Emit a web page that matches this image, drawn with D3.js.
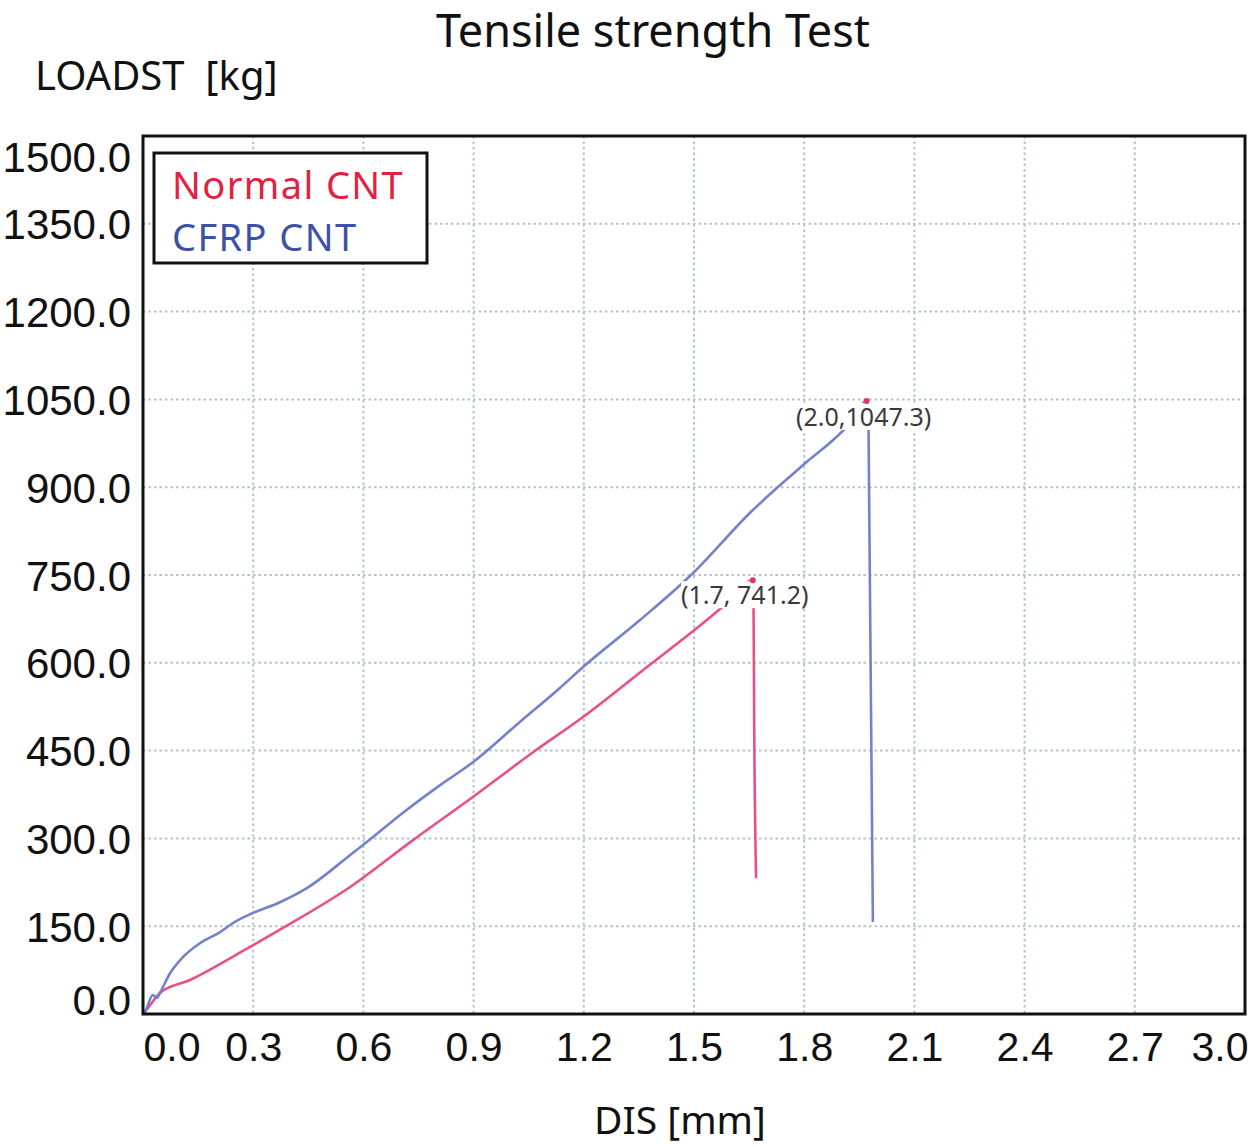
<!DOCTYPE html>
<html>
<head>
<meta charset="utf-8">
<script src="https://cdn.jsdelivr.net/npm/d3@7"></script>
<style>
  html, body { margin: 0; padding: 0; background: #fff; }
  svg { display: block; font-family: "Noto Sans", "Open Sans", sans-serif; }
</style>
</head>
<body>
<svg id="chart" width="1260" height="1147"></svg>
<script>
// ---- data ----
const xTicks = [0.0, 0.3, 0.6, 0.9, 1.2, 1.5, 1.8, 2.1, 2.4, 2.7, 3.0];
const yTicks = [0, 150, 300, 450, 600, 750, 900, 1050, 1200, 1350, 1500];

const cfrpDis  = [0, 0.005, 0.027, 0.038, 0.046, 0.074, 0.109, 0.155, 0.210, 0.245, 0.299, 0.373, 0.446, 0.564, 0.623, 0.700, 0.809, 0.898, 1.026, 1.135, 1.198, 1.353, 1.497, 1.652, 1.797, 1.925, 1.970, 1.975, 1.987];
const cfrpLoad = [0, 3.4, 32.5, 27.3, 35.9, 70, 97.4, 121, 140, 155.5, 172.5, 191, 215, 271.6, 300.7, 340, 391, 430, 499, 557, 592.8, 673, 753, 856, 938, 1010, 1047.3, 1010, 157];

const normalDis  = [0, 0.005, 0.046, 0.128, 0.291, 0.381, 0.564, 0.735, 0.898, 1.059, 1.198, 1.372, 1.535, 1.590, 1.660, 1.662, 1.664, 1.669];
const normalLoad = [0, 3.4, 35.9, 58, 114.5, 147, 217, 297, 370.7, 445.9, 507.4, 592.8, 673, 702, 741.2, 702, 485, 232];

const seriesNames = ["Normal CNT", "CFRP CNT"];
const peakDis   = [1.66, 1.97];
const peakLoad  = [741.2, 1047.3];
const peakLabels = ["(1.7, 741.2)", "(2.0,1047.3)"];

const titleText = "Tensile strength Test";
const yTitle = "LOADST  [kg]";
const xTitle = "DIS [mm]";

// ---- layout ----
const svg = d3.select("#chart");
const L = 143, R = 1245, T = 136, B = 1014;
const x = d3.scaleLinear().domain([0, 3.0]).range([L, R]);
const y = d3.scaleLinear().domain([0, 1500]).range([B, T]);

const lineColors = ["#e8508a", "#7482cc"];
const legendColors = ["#e3213f", "#3c52a8"];

// grid
const grid = svg.append("g");
grid.selectAll("line.v").data(xTicks.slice(1, -1)).join("line")
  .attr("x1", d => x(d)).attr("x2", d => x(d)).attr("y1", T).attr("y2", B)
  .attr("stroke", "#b3c5c7").attr("stroke-width", 2).attr("stroke-dasharray", "2.5,3");
grid.selectAll("line.h").data(yTicks.slice(1, -1)).join("line")
  .attr("y1", d => y(d)).attr("y2", d => y(d)).attr("x1", L).attr("x2", R)
  .attr("stroke", "#b3c5c7").attr("stroke-width", 2).attr("stroke-dasharray", "2.5,3");

// curves
const line = d3.line().x(d => x(d[0])).y(d => y(d[1])).curve(d3.curveMonotoneX);
const normalPts = normalDis.map((d, i) => [d, normalLoad[i]]);
const cfrpPts = cfrpDis.map((d, i) => [d, cfrpLoad[i]]);
svg.append("path").datum(normalPts).attr("d", line)
  .attr("fill", "none").attr("stroke", lineColors[0]).attr("stroke-width", 2.6).attr("stroke-linejoin", "round");
svg.append("path").datum(cfrpPts).attr("d", line)
  .attr("fill", "none").attr("stroke", lineColors[1]).attr("stroke-width", 2.6).attr("stroke-linejoin", "round");

// peak labels with white background
const labelOffsets = [[-8, 14], [-3, 15]];
peakLabels.forEach((t, i) => {
  const g = svg.append("g");
  const tx = g.append("text")
    .attr("x", x(peakDis[i]) + labelOffsets[i][0])
    .attr("y", y(peakLoad[i]) + labelOffsets[i][1])
    .attr("text-anchor", "middle").attr("dominant-baseline", "central")
    .attr("font-size", 25).attr("fill", "#3a3a3a").text(t);
  const bb = tx.node().getBBox();
  g.insert("rect", "text").attr("x", bb.x).attr("y", bb.y + 4).attr("width", bb.width).attr("height", bb.height - 7)
    .attr("fill", "#fff");
});
// peak dots
svg.selectAll("circle.peak").data(peakDis).join("circle")
  .attr("cx", d => x(d)).attr("cy", (d, i) => y(peakLoad[i])).attr("r", 3)
  .attr("fill", "#e8306a");

// frame
svg.append("rect").attr("x", L).attr("y", T).attr("width", R - L).attr("height", B - T)
  .attr("fill", "none").attr("stroke", "#111").attr("stroke-width", 3);

// x axis labels
const xAxis = d3.axisBottom(x).tickValues(xTicks).tickFormat(d3.format(".1f")).tickSize(0);
const gx = svg.append("g").attr("transform", `translate(0,${B})`).call(xAxis);
gx.select(".domain").remove();
gx.selectAll("text").attr("font-size", 41).attr("fill", "#111").attr("font-family", null)
  .attr("dy", null).attr("y", 47)
  .attr("text-anchor", (d, i) => i === 0 ? "start" : (i === xTicks.length - 1 ? "end" : "middle"))
  .attr("dx", (d, i) => i === xTicks.length - 1 ? 3 : 0);

// y axis labels
const yAxis = d3.axisLeft(y).tickValues(yTicks).tickFormat(d3.format(".1f")).tickSize(0);
const gy = svg.append("g").attr("transform", `translate(${L},0)`).call(yAxis);
gy.select(".domain").remove();
gy.selectAll("text").attr("font-size", 42).attr("fill", "#111").attr("font-family", null)
  .attr("x", -12)
  .attr("dy", d => d === 1500 ? "0.84em" : (d === 0 ? "0em" : "0.36em"));

// legend
const lg = svg.append("g");
lg.append("rect").attr("x", 154).attr("y", 153).attr("width", 273).attr("height", 110)
  .attr("fill", "#fff").attr("stroke", "#111").attr("stroke-width", 3);
lg.selectAll("text").data(seriesNames).join("text")
  .attr("x", 172).attr("y", (d, i) => 199 + i * 52)
  .attr("font-size", 38).attr("letter-spacing", 1.4)
  .attr("fill", (d, i) => legendColors[i]).text(d => d);

// titles
svg.append("text").attr("x", 653).attr("y", 47).attr("text-anchor", "middle")
  .attr("font-size", 45).attr("fill", "#111").text(titleText);
svg.append("text").attr("x", 35).attr("y", 90).attr("font-size", 40).attr("fill", "#111")
  .attr("xml:space", "preserve").style("white-space", "pre").text(yTitle);
svg.append("text").attr("x", 680).attr("y", 1134).attr("text-anchor", "middle")
  .attr("font-size", 39).attr("fill", "#111").text(xTitle);
</script>
</body>
</html>
